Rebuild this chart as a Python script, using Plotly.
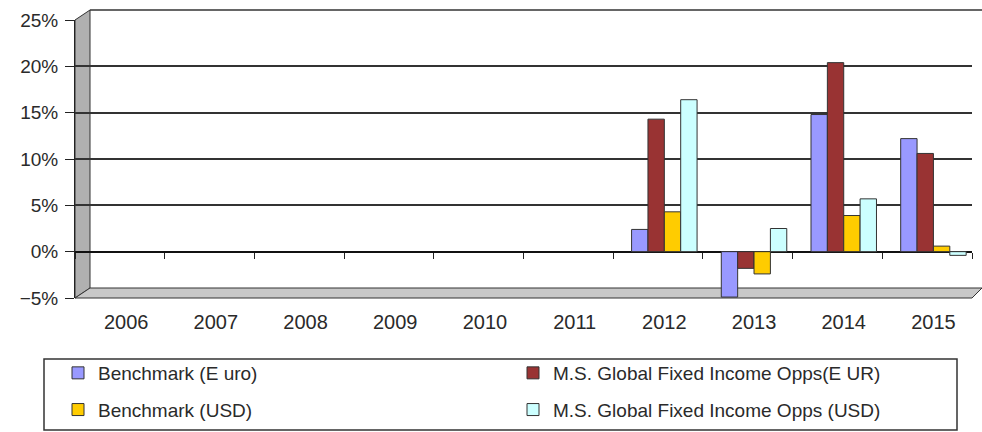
import plotly.graph_objects as go

years = ["2006", "2007", "2008", "2009", "2010", "2011", "2012", "2013", "2014", "2015"]
bench_eur = [None, None, None, None, None, None, 2.4, -4.9, 14.8, 12.2]
ms_eur = [None, None, None, None, None, None, 14.3, -1.8, 20.4, 10.6]
bench_usd = [None, None, None, None, None, None, 4.3, -2.4, 3.9, 0.6]
ms_usd = [None, None, None, None, None, None, 16.4, 2.5, 5.7, -0.4]

names = ["Benchmark (E uro)", "M.S. Global Fixed Income Opps(E UR)",
         "Benchmark (USD)", "M.S. Global Fixed Income Opps (USD)"]
colors = ["#9999FF", "#993333", "#FFCC00", "#CCFFFF"]
series = [bench_eur, ms_eur, bench_usd, ms_usd]
legend_of = ["legend", "legend2", "legend", "legend2"]

fig = go.Figure()
for i, (nm, col, vals, lg) in enumerate(zip(names, colors, series, legend_of)):
    fig.add_trace(go.Bar(
        x=years, y=vals, name=nm, legend=lg, legendgroup=f"g{i}",
        marker=dict(color=col, line=dict(color="#333333", width=1)),
    ))

font = dict(family="Liberation Sans, Arial, sans-serif", color="#2a2a2a")
legfont = dict(size=19, **font)

# plot area: x 75..972, y 20..298 (px)
PW, PH = 897.0, 278.0
def px(x):
    return (x - 75) / PW
def py(y):
    return (298 - y) / PH

n = len(years)
fig.update_layout(
    width=982, height=432,
    margin=dict(l=75, r=10, t=20, b=134, autoexpand=False),
    paper_bgcolor="white", plot_bgcolor="white",
    barmode="group", bargap=0.27, bargroupgap=0.0,
    font=dict(size=19, **font),
    showlegend=True,
    legend=dict(
        orientation="v", x=px(58), y=py(354), xanchor="left", yanchor="top",
        bgcolor="rgba(0,0,0,0)", borderwidth=0, font=legfont,
        tracegroupgap=9, itemclick=False,
    ),
    legend2=dict(
        orientation="v", x=px(513), y=py(354), xanchor="left", yanchor="top",
        bgcolor="rgba(0,0,0,0)", borderwidth=0, font=legfont,
        tracegroupgap=9, itemclick=False,
    ),
    xaxis=dict(
        type="category", categoryorder="array", categoryarray=years,
        range=[-0.57, n - 0.57],
        showgrid=False, showline=False, ticks="",
        tickfont=dict(size=20, **font), ticklabelstandoff=10,
    ),
    xaxis2=dict(
        type="category", categoryorder="array", categoryarray=years,
        range=[-0.5, n - 0.5],
        overlaying="x", anchor="free", position=5 / 30, side="bottom",
        showticklabels=False, ticks="outside", tickson="boundaries",
        ticklen=6, tickcolor="#222222", showgrid=False, showline=False,
    ),
    yaxis=dict(
        range=[-5, 25], dtick=5, ticksuffix="%",
        showgrid=True, gridcolor="#333333", gridwidth=1.5,
        zeroline=True, zerolinecolor="#111111", zerolinewidth=1.5,
        ticks="outside", ticklen=9, tickcolor="#222222",
        showline=True, linecolor="#222222", linewidth=1,
        tickfont=dict(size=19, **font), ticklabelstandoff=3,
    ),
    shapes=[
        # left wall (3D look)
        dict(type="path", xref="paper", yref="paper",
             path=f"M 0,0 L 0,1 L {px(90)},{py(10)} L {px(90)},{py(288)} Z",
             fillcolor="#B0B0B0", line=dict(color="#333333", width=1), layer="below"),
        # floor
        dict(type="path", xref="paper", yref="paper",
             path=f"M 0,0 L {px(90)},{py(288)} L {px(982)},{py(288)} L {px(972)},0 Z",
             fillcolor="#C8C8C8", line=dict(color="#333333", width=1), layer="below"),
        # back wall top edge
        dict(type="line", xref="paper", yref="paper",
             x0=px(90), y0=py(10), x1=px(982), y1=py(10),
             line=dict(color="#333333", width=1.5)),
        # legend box
        dict(type="rect", xref="paper", yref="paper",
             x0=px(44), y0=py(359), x1=px(957), y1=py(430),
             fillcolor="rgba(0,0,0,0)", line=dict(color="#333333", width=1.5)),
    ],
)
fig.add_trace(go.Scatter(x=years, y=[None] * n, xaxis="x2", showlegend=False, hoverinfo="skip"))

fig.write_html("out.html", config={"displayModeBar": False},
               post_script="document.body.style.margin='0px';")
